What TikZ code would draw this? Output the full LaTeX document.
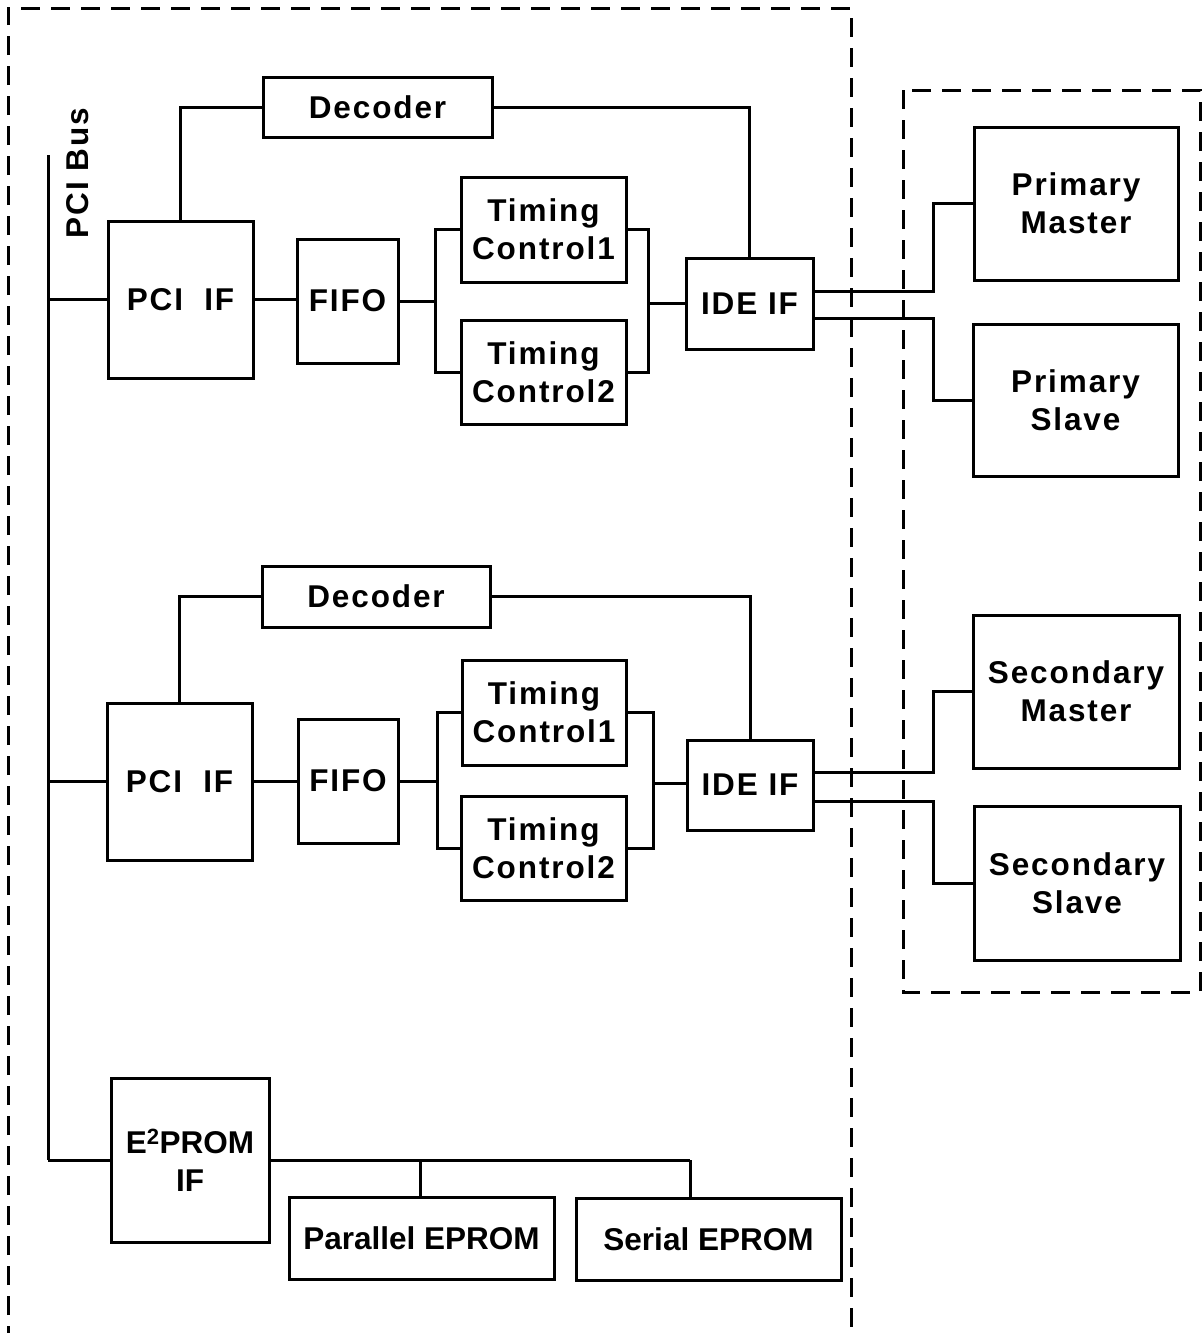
\documentclass[tikz,border=0pt]{standalone}
\usepackage{fontspec}
\setmainfont{Liberation Sans}
\newfontfamily\spaced[LetterSpace=6]{Liberation Sans}
\begin{document}
\begin{tikzpicture}[x=1pt,y=-1pt,
  box/.style={draw, line width=3pt, inner sep=0pt, align=center,
    font=\spaced\bfseries\fontsize{31.5}{38}\selectfont},
  pbox/.style={draw, line width=3pt, inner sep=0pt, align=center,
    font=\bfseries\fontsize{31.5}{38}\selectfont},
  wire/.style={line width=3pt},
  frame/.style={line width=3pt, dash pattern=on 19pt off 11pt}]
\useasboundingbox (0,0) rectangle (1202,1333);
% frames
\draw[frame] (8,1345) -- (8,8) -- (851,8) -- (851,1345);
\draw[frame] (903,90) rectangle (1200,992);
% bus
\coordinate (bustop) at (48,155);
\coordinate (busbot) at (48,1160);
\draw[wire] (bustop) -- (busbot);
\node[font=\spaced\bfseries\fontsize{31.5}{38}\selectfont, rotate=90] (buslbl) at (78,173) {PCI Bus};
% top channel
\node[box, minimum width=229pt, minimum height=60pt] (dec1) at (377.5,107) {Decoder};
\node[box, minimum width=145pt, minimum height=157pt] (pci1) at (180.5,299.5) {PCI\ \ IF};
\node[box, minimum width=101pt, minimum height=124pt] (fifo1) at (347.5,301) {FIFO};
\node[box, minimum width=165pt, minimum height=105pt] (tc1a) at (543.5,229.5) {Timing\\Control1};
\node[box, minimum width=165pt, minimum height=104pt] (tc2a) at (543.5,372) {Timing\\Control2};
\node[box, minimum width=127pt, minimum height=91pt] (ide1) at (749.5,303.5) {IDE IF};
\node[box, minimum width=204pt, minimum height=153pt] (pm) at (1076,203.5) {Primary\\Master};
\node[box, minimum width=205pt, minimum height=152pt] (ps) at (1075.5,400) {Primary\\Slave};
\coordinate (j1) at (435,300);
\coordinate (k1) at (648,303.5);
\coordinate (p1) at (933,291);
\coordinate (p2) at (933,318);
\draw[wire] (pci1.west) -- (pci1.west -| bustop);
\draw[wire] (pci1.north) |- (dec1.west);
\draw[wire] (dec1.east) -| (ide1.north);
\draw[wire] (pci1.east) -- (pci1.east -| fifo1.west);
\draw[wire] (fifo1.east) -- (fifo1.east -| j1);
\draw[wire] (tc1a.west) -| (j1) |- (tc2a.west);
\draw[wire] (tc1a.east) -| (k1) |- (tc2a.east);
\draw[wire] (k1) -- (ide1.west);
\draw[wire] (ide1.east |- p1) -- (p1) |- (pm.west);
\draw[wire] (ide1.east |- p2) -- (p2) |- (ps.west);
% bottom channel
\node[box, minimum width=228pt, minimum height=61pt] (dec2) at (376,596.5) {Decoder};
\node[box, minimum width=145pt, minimum height=157pt] (pci2) at (179.5,781.5) {PCI\ \ IF};
\node[box, minimum width=100pt, minimum height=124pt] (fifo2) at (348,781) {FIFO};
\node[box, minimum width=164pt, minimum height=105pt] (tc1b) at (544,712.5) {Timing\\Control1};
\node[box, minimum width=165pt, minimum height=104pt] (tc2b) at (543.5,848) {Timing\\Control2};
\node[box, minimum width=126pt, minimum height=90pt] (ide2) at (750,785) {IDE IF};
\node[box, minimum width=206pt, minimum height=153pt] (sm) at (1076,691.5) {Secondary\\Master};
\node[box, minimum width=206pt, minimum height=154pt] (ss) at (1077,883) {Secondary\\Slave};
\coordinate (j2) at (437,781);
\coordinate (k2) at (653,783);
\coordinate (q1) at (933,772);
\coordinate (q2) at (933,801);
\draw[wire] (pci2.west) -- (pci2.west -| bustop);
\draw[wire] (pci2.north) |- (dec2.west);
\draw[wire] (dec2.east) -| (ide2.north);
\draw[wire] (pci2.east) -- (pci2.east -| fifo2.west);
\draw[wire] (fifo2.east) -- (fifo2.east -| j2);
\draw[wire] (tc1b.west) -| (j2) |- (tc2b.west);
\draw[wire] (tc1b.east) -| (k2) |- (tc2b.east);
\draw[wire] (k2) -- (k2 -| ide2.west);
\draw[wire] (ide2.east |- q1) -- (q1) |- (sm.west);
\draw[wire] (ide2.east |- q2) -- (q2) |- (ss.west);
% EEPROM
\node[pbox, minimum width=158pt, minimum height=164pt] (e2) at (190,1160) {E\textsuperscript{2}PROM\\IF};
\node[pbox, minimum width=265pt, minimum height=82pt] (par) at (421.5,1238) {Parallel EPROM};
\node[pbox, minimum width=265pt, minimum height=82pt] (ser) at (708.5,1239) {Serial EPROM};
\coordinate (b1) at (420,1160);
\coordinate (b2) at (690,1160);
\draw[wire] (e2.west) -- (e2.west -| busbot);
\draw[wire] (e2.east) -- (b2);
\draw[wire] (b1) -- (b1 |- par.north);
\draw[wire] (b2) -- (b2 |- ser.north);
\end{tikzpicture}
\end{document}
